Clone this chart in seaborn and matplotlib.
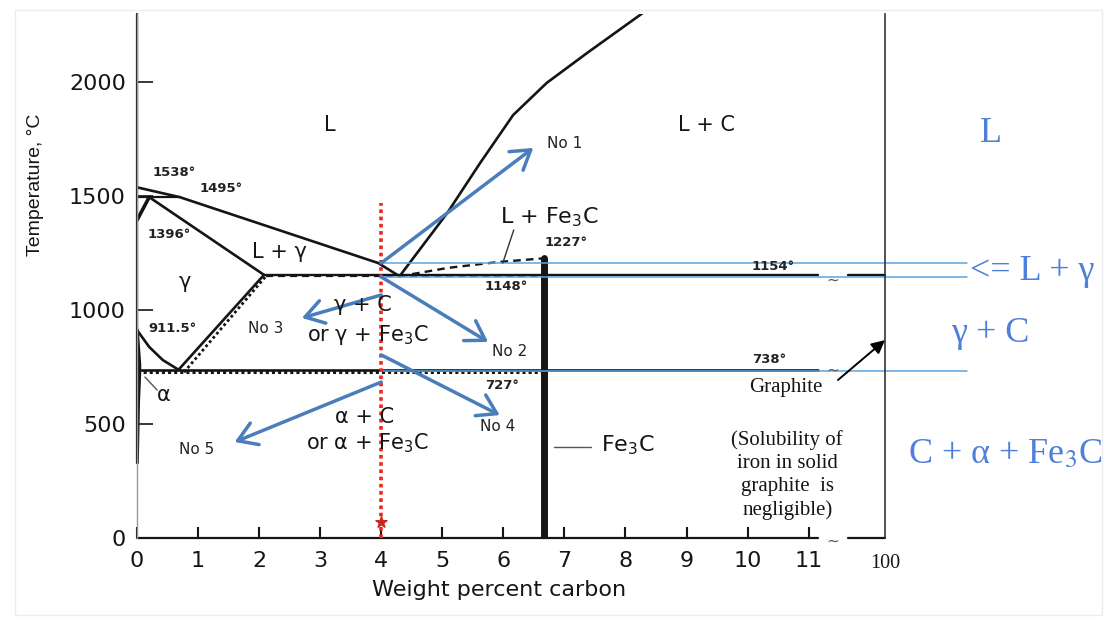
import matplotlib
matplotlib.use("Agg")
import matplotlib.pyplot as plt
import seaborn as sns
import pandas as pd
from matplotlib.patches import Rectangle

# ---------------- phase boundaries (wt% C, deg C) ----------------
liquidus_fe_x = [0.0, 0.7, 3.95, 4.3]
liquidus_fe_y = [1538, 1495, 1206, 1148]

peritectic_x = [0.0, 0.7]
peritectic_y = [1495, 1495]

delta_gamma_x = [0.0, 0.2]
delta_gamma_y = [1394, 1495]

solidus_gamma_x = [0.2, 2.08]
solidus_gamma_y = [1495, 1154]

a3_x = [0.0, 0.2, 0.42, 0.68]
a3_y = [912, 838, 781, 738]

acm_graphite_x = [0.68, 2.08]
acm_graphite_y = [738, 1154]
acm_cementite_x = [0.77, 2.11]
acm_cementite_y = [727, 1148]

alpha_x = [0.0, 0.04, 0.04, 0.02, 0.0]
alpha_y = [912, 760, 727, 600, 330]

eutectic_graphite_y = 1154
eutectic_cementite_y = 1148
eutectoid_graphite_y = 738
eutectoid_cementite_y = 727

liquidus_graphite_x = [4.3, 5.08, 5.62, 6.16, 6.71, 7.37, 8.27]
liquidus_graphite_y = [1148, 1425, 1645, 1855, 1996, 2127, 2300]

liquidus_fe3c_x = [4.3, 5.1, 5.9, 6.67]
liquidus_fe3c_y = [1148, 1185, 1210, 1227]

fe3c_x = 6.67
fe3c_top = 1227

# cast iron composition under discussion
alloy_x = 4.0
alloy_top = 1469

# cooling paths No 1 .. No 5, all leaving the 4 % C line
path_names = ["No 1", "No 2", "No 3", "No 4", "No 5"]
path_start_y = [1206, 1145, 1066, 803, 684]
path_tip_x = [6.49, 5.75, 2.70, 5.94, 1.60]
path_tip_y = [1711, 860, 965, 539, 421]

# reference temperatures carried over to the side notes
guide_y = [1206, 1145, 732]

x_ticks = list(range(12))
y_ticks = [0, 500, 1000, 1500, 2000]

BLUE_ARROW = "#4a7ebb"
BLUE_TEXT = "#4f7fdc"
BLUE_GUIDE = "#5ba6e0"
RED = "#f0261a"
INK = "#151515"

sns.set_theme(style="white")
plt.rcParams["font.family"] = ["DejaVu Sans"]

fig = plt.figure(figsize=(11.11, 6.33), dpi=100)
fig.patch.set_facecolor("white")
ax = fig.add_axes([137 / 1111, 95 / 633, 748 / 1111, 524.4 / 633])
ax.set_facecolor("white")
ax.set_xlim(0, 12.25)
ax.set_ylim(0, 2300)

# faint outline of the slide area
fig.add_artist(Rectangle((15 / 1111, 18 / 633), 1087 / 1111, 605 / 633,
                         transform=fig.transFigure, fill=False,
                         edgecolor="#ececec", lw=1.0))


def boundary(xs, ys, lw=1.8, ls="-", color=INK, clip=True):
    sns.lineplot(x=xs, y=ys, sort=False, estimator=None, color=color,
                 lw=lw, linestyle=ls, ax=ax, clip_on=clip)


DASH = (0, (3.2, 2.2))
DOTS = (0, (1.0, 1.0))

# frame
for s in ["top", "bottom"]:
    ax.spines[s].set_visible(False)
ax.spines["left"].set_color("#9a9a9a")
ax.spines["left"].set_linewidth(1.0)
ax.spines["right"].set_color("#333333")
ax.spines["right"].set_linewidth(1.2)
boundary([0, 0], [330, 2300], lw=1.6, clip=False)
boundary([0, 11.15], [0, 0], lw=1.6, clip=False)
boundary([11.65, 12.25], [0, 0], lw=1.6, clip=False)

# iron-rich corner
boundary(liquidus_fe_x, liquidus_fe_y, lw=1.9)
boundary(peritectic_x, peritectic_y, lw=1.6)
boundary(delta_gamma_x, delta_gamma_y, lw=2.6)
boundary(solidus_gamma_x, solidus_gamma_y, lw=1.9)
boundary(a3_x, a3_y, lw=1.9)
boundary(acm_graphite_x, acm_graphite_y, lw=1.9)
boundary(acm_cementite_x, acm_cementite_y, lw=2.0, ls=DOTS)
boundary(alpha_x, alpha_y, lw=2.6)

# eutectic and eutectoid isotherms (solid: graphite, dashed: cementite)
boundary([acm_graphite_x[1], 11.15], [eutectic_graphite_y] * 2, lw=1.7)
boundary([11.65, 12.25], [eutectic_graphite_y] * 2, lw=1.7, clip=False)
boundary([acm_cementite_x[1], fe3c_x], [eutectic_cementite_y] * 2, lw=1.6, ls=DASH)
boundary([0, 11.15], [eutectoid_graphite_y] * 2, lw=1.9)
boundary([0, fe3c_x], [eutectoid_cementite_y] * 2, lw=2.2, ls=DOTS)

# hyper-eutectic liquidus lines and the cementite line
boundary(liquidus_graphite_x, liquidus_graphite_y, lw=1.9)
boundary(liquidus_fe3c_x, liquidus_fe3c_y, lw=1.7, ls=DASH)
boundary([fe3c_x, fe3c_x], [0, fe3c_top], lw=5.0)

# axis-break marks
for yb in [-12, eutectic_graphite_y - 22, eutectoid_graphite_y]:
    ax.text(11.4, yb, "~", ha="center", va="center", fontsize=11, color="#555555")

# guide lines to the side notes
for gy in guide_y:
    boundary([alloy_x, 13.59], [gy, gy], lw=1.1, color=BLUE_GUIDE, clip=False)

# 4 % C alloy line
boundary([alloy_x, alloy_x], [0, alloy_top], lw=2.6, ls=DOTS, color=RED)
ax.scatter([alloy_x], [70], marker="*", s=70, color="#c8281c", zorder=5)

# cooling paths
for name, sy, tx, ty in zip(path_names, path_start_y, path_tip_x, path_tip_y):
    ax.annotate("", xy=(tx, ty), xytext=(alloy_x, sy),
                arrowprops=dict(arrowstyle="->,head_length=0.6,head_width=0.38",
                                color=BLUE_ARROW, lw=2.5, mutation_scale=22,
                                shrinkA=0, shrinkB=0))

path_label_pos = [(7.01, 1732), (6.11, 816), (2.10, 921), (5.91, 487), (0.98, 386)]
for name, (lx, ly) in zip(path_names, path_label_pos):
    ax.text(lx, ly, name, ha="center", va="center", fontsize=11, color="#222222")

# ticks
ax.set_xticks(x_ticks)
ax.set_xticklabels([str(t) for t in x_ticks])
ax.set_yticks(y_ticks)
ax.set_yticklabels([str(t) for t in y_ticks])
ax.tick_params(axis="x", direction="in", length=8, width=1.5, pad=9.5,
               labelsize=16, colors=INK, bottom=True)
ax.tick_params(axis="y", direction="in", length=11.5, width=1.2, pad=8,
               labelsize=16, colors=INK, left=True)
ax.text(12.25, -110, "100", ha="center", va="center", fontsize=14.5,
        family="Liberation Serif", color=INK)

ax.set_xlabel("Weight percent carbon", fontsize=16, color=INK)
ax.xaxis.set_label_coords(0.484, -0.080)
ax.set_ylabel("Temperature, \u00b0C", fontsize=14, color=INK,
              family="Liberation Sans")
ax.yaxis.set_label_coords(-0.124, 0.673)

# temperature labels
deg = dict(fontsize=9.5, fontweight="bold", color="#222222", ha="left", va="center")
ax.text(0.25, 1601, "1538\u00b0", **deg)
ax.text(1.03, 1535, "1495\u00b0", **deg)
ax.text(0.18, 1329, "1396\u00b0", **deg)
ax.text(0.18, 921, "911.5\u00b0", **deg)
ax.text(6.68, 1294, "1227\u00b0", **deg)
ax.text(5.70, 1101, "1148\u00b0", **deg)
ax.text(10.07, 1189, "1154\u00b0", **deg)
ax.text(10.07, 785, "738\u00b0", **deg)
ax.text(5.70, 667, "727\u00b0", **deg)

# phase fields
ph = dict(fontsize=15, color=INK, ha="center", va="center")
ax.text(3.16, 1811, "L", **ph)
ax.text(9.32, 1811, "L + C", **ph)
ax.text(2.34, 1254, "L + \u03b3", **ph)
ax.text(0.79, 1123, "\u03b3", **ph)
ax.text(3.70, 1022, "\u03b3 + C", **ph)
ax.text(3.78, 890, "or \u03b3 + Fe$_3$C", **ph)
ax.text(3.73, 531, "\u03b1 + C", **ph)
ax.text(3.78, 417, "or \u03b1 + Fe$_3$C", **ph)
ax.text(0.43, 627, "\u03b1", **ph)
ax.text(6.76, 1408, "L + Fe$_3$C", fontsize=16, color=INK, ha="center", va="center")
ax.text(7.60, 408, "Fe$_3$C", fontsize=16, color=INK, ha="left", va="center")

# leader lines
boundary([6.17, 5.99], [1351, 1206], lw=1.0, color="#333333")
boundary([6.83, 7.44], [399, 399], lw=1.0, color="#555555")
boundary([0.13, 0.33], [706, 649], lw=1.0, color="#555555")

# graphite note
serif = dict(family="Liberation Serif", color=INK, ha="center", va="center")
ax.text(10.63, 662, "Graphite", fontsize=15, **serif)
ax.text(10.65, 276, "(Solubility of\niron in solid\ngraphite  is\nnegligible)",
        fontsize=15, linespacing=1.3, **serif)
ax.annotate("", xy=(12.25, 868), xytext=(11.48, 693),
            arrowprops=dict(arrowstyle="-|>", color="black", lw=1.4,
                            mutation_scale=20, shrinkA=0, shrinkB=0),
            annotation_clip=False)

# side notes
side = dict(family="Liberation Serif", color=BLUE_TEXT, fontsize=26,
            va="center", math_fontfamily="stix")
ax.text(13.99, 1772, "L", ha="center", **side)
ax.text(13.64, 1167, "<= L + \u03b3", ha="left", **side)
ax.text(13.97, 899, "\u03b3 + C", ha="center", **side)
ax.text(14.22, 364, "C + \u03b1 + Fe$_3$C", ha="center", **side)

fig.savefig("out.png", dpi=100, facecolor="white")
